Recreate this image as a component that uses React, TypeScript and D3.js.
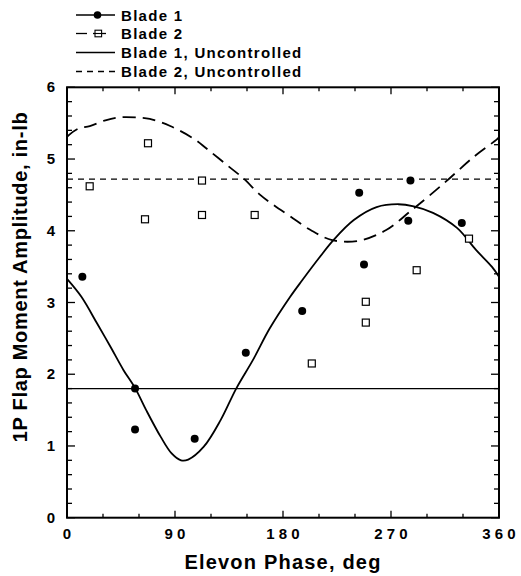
import React from 'react';
import * as d3 from 'd3';

// Blade 1 measured points
const blade1Phase = [12.8, 56.7, 56.7, 106.4, 149, 196, 243.5, 247.5, 286.2, 284.4, 329];
const blade1Amp = [3.36, 1.8, 1.23, 1.1, 2.3, 2.88, 4.53, 3.53, 4.7, 4.14, 4.11];

// Blade 2 measured points
const blade2Phase = [18.9, 67.5, 65, 112.5, 112.5, 156.4, 204, 249, 249, 291.4, 335];
const blade2Amp = [4.62, 5.22, 4.16, 4.7, 4.22, 4.22, 2.15, 3.01, 2.72, 3.45, 3.89];

// Uncontrolled reference levels
const blade1Uncontrolled = 1.8;
const blade2Uncontrolled = 4.72;

// Blade 1 curve
const curve1Phase = [0, 12, 25, 36, 47, 57, 66, 78, 87, 95, 101, 114, 128, 141, 155, 169, 186, 196, 210, 222, 239, 258, 276, 289, 305, 325, 341, 354, 360];
const curve1Amp = [3.33, 3.08, 2.71, 2.39, 2.06, 1.8, 1.5, 1.13, 0.9, 0.8, 0.81, 0.99, 1.36, 1.8, 2.2, 2.64, 3.08, 3.31, 3.62, 3.87, 4.15, 4.33, 4.37, 4.34, 4.25, 4.04, 3.73, 3.5, 3.36];

// Blade 2 curve
const curve2Phase = [0, 9, 19, 32, 43, 58, 69, 86, 105, 116, 133, 147, 161, 172, 186, 203, 221, 243, 266, 286, 314, 339, 358, 360];
const curve2Amp = [5.31, 5.42, 5.46, 5.54, 5.58, 5.58, 5.56, 5.46, 5.29, 5.15, 4.92, 4.73, 4.5, 4.36, 4.2, 4.01, 3.87, 3.86, 4.01, 4.27, 4.66, 5.03, 5.27, 5.3];

const xTicks = [0, 90, 180, 270, 360];
const yTicks = [0, 1, 2, 3, 4, 5, 6];
const legendLabels = ['Blade 1', 'Blade 2', 'Blade 1, Uncontrolled', 'Blade 2, Uncontrolled'];

const FONT = '"Liberation Sans", Arial, Helvetica, sans-serif';

export default function App() {
  const W = 521, H = 576;
  const L = 67, R = 499, T = 87.3, B = 517.7;
  const x = d3.scaleLinear().domain([0, 360]).range([L, R]);
  const y = d3.scaleLinear().domain([0, 6]).range([B, T]);

  const line = d3.line<[number, number]>()
    .x(d => x(d[0]))
    .y(d => y(d[1]))
    .curve(d3.curveCatmullRom.alpha(0.5));

  const c1 = line(curve1Phase.map((p, i) => [p, curve1Amp[i]]) as [number, number][]) || '';
  const c2 = line(curve2Phase.map((p, i) => [p, curve2Amp[i]]) as [number, number][]) || '';

  const xMinor = d3.range(0, 361, 30);
  const yMinor = d3.range(0, 6.001, 0.2);

  const legendY = [15, 33.5, 52.5, 71.5];
  const lx0 = 76, lx1 = 115, ltx = 121;

  return (
    <svg width={W} height={H} style={{ position: 'absolute', left: 0, top: 0, background: '#fff' }}
      fontFamily={FONT} fontWeight="bold">
      <rect x={0} y={0} width={W} height={H} fill="#fff" />
      <defs>
        <clipPath id="plotclip">
          <rect x={L} y={T} width={R - L} height={B - T} />
        </clipPath>
      </defs>

      {/* ticks */}
      {xMinor.map(v => {
        const major = v % 90 === 0;
        const len = major ? 7 : 4;
        return (
          <g key={'xt' + v} stroke="#000" strokeWidth={1.3}>
            <line x1={x(v)} x2={x(v)} y1={B} y2={B - len} />
            <line x1={x(v)} x2={x(v)} y1={T} y2={T + len} />
          </g>
        );
      })}
      {yMinor.map((v, i) => {
        const major = i % 5 === 0;
        const len = major ? 8 : 5;
        return (
          <g key={'yt' + i} stroke="#000" strokeWidth={1.3}>
            <line x1={L} x2={L + len} y1={y(v)} y2={y(v)} />
            <line x1={R} x2={R - len} y1={y(v)} y2={y(v)} />
          </g>
        );
      })}

      {/* data lines */}
      <g clipPath="url(#plotclip)" fill="none" stroke="#000">
        <line x1={x(0)} x2={x(360)} y1={y(blade1Uncontrolled)} y2={y(blade1Uncontrolled)} strokeWidth={1.3} />
        <line x1={x(0)} x2={x(360)} y1={y(blade2Uncontrolled)} y2={y(blade2Uncontrolled)} strokeWidth={1.3} strokeDasharray="6,5" />
        <path d={c1} strokeWidth={1.8} />
        <path d={c2} strokeWidth={1.8} strokeDasharray="13,7" />
      </g>

      {/* points */}
      {blade1Phase.map((p, i) => (
        <circle key={'b1' + i} cx={x(p)} cy={y(blade1Amp[i])} r={4} fill="#000" />
      ))}
      {blade2Phase.map((p, i) => (
        <rect key={'b2' + i} x={x(p) - 3.5} y={y(blade2Amp[i]) - 3.5} width={7} height={7} fill="#fff" stroke="#000" strokeWidth={1.2} />
      ))}

      {/* frame */}
      <rect x={L} y={T} width={R - L} height={B - T} fill="none" stroke="#000" strokeWidth={2} />

      {/* tick labels */}
      {xTicks.map(v => (
        <text key={'xl' + v} x={x(v)} y={538.5} textAnchor="middle" fontSize={15} fontWeight="bold">
          {String(v).split('').join(' ')}
        </text>
      ))}
      {yTicks.map(v => (
        <text key={'yl' + v} x={55} y={y(v) + 5} textAnchor="end" fontSize={15} fontWeight="bold">
          {v}
        </text>
      ))}

      {/* axis titles */}
      <text x={283} y={569} textAnchor="middle" fontSize={20} fontWeight="bold" letterSpacing={1.2}>Elevon Phase, deg</text>
      <text transform="translate(27,277) rotate(-90)" textAnchor="middle" fontSize={20} fontWeight="bold" letterSpacing={0.7}>
        1P Flap Moment Amplitude, in-lb
      </text>

      {/* legend */}
      <g stroke="#000" fill="none">
        <line x1={lx0} x2={lx1} y1={legendY[0]} y2={legendY[0]} strokeWidth={1.3} />
        <circle cx={97.5} cy={legendY[0]} r={3.8} fill="#000" stroke="none" />
        <line x1={lx0} x2={87} y1={legendY[1]} y2={legendY[1]} strokeWidth={1.3} />
        <line x1={93} x2={106} y1={legendY[1]} y2={legendY[1]} strokeWidth={1.3} />
        <rect x={95} y={legendY[1] - 3.3} width={6.6} height={6.6} fill="#fff" strokeWidth={1.1} />
        <line x1={95} x2={101.6} y1={legendY[1]} y2={legendY[1]} strokeWidth={1.1} />
        <line x1={lx0} x2={lx1} y1={legendY[2]} y2={legendY[2]} strokeWidth={1.3} />
        <line x1={lx0} x2={lx1} y1={legendY[3]} y2={legendY[3]} strokeWidth={1.3} strokeDasharray="6,5" />
      </g>
      {legendLabels.map((s, i) => (
        <text key={'lg' + i} x={ltx} y={legendY[i] + 5.5} fontSize={15} fontWeight="bold" letterSpacing={1.3}>{s}</text>
      ))}
    </svg>
  );
}
